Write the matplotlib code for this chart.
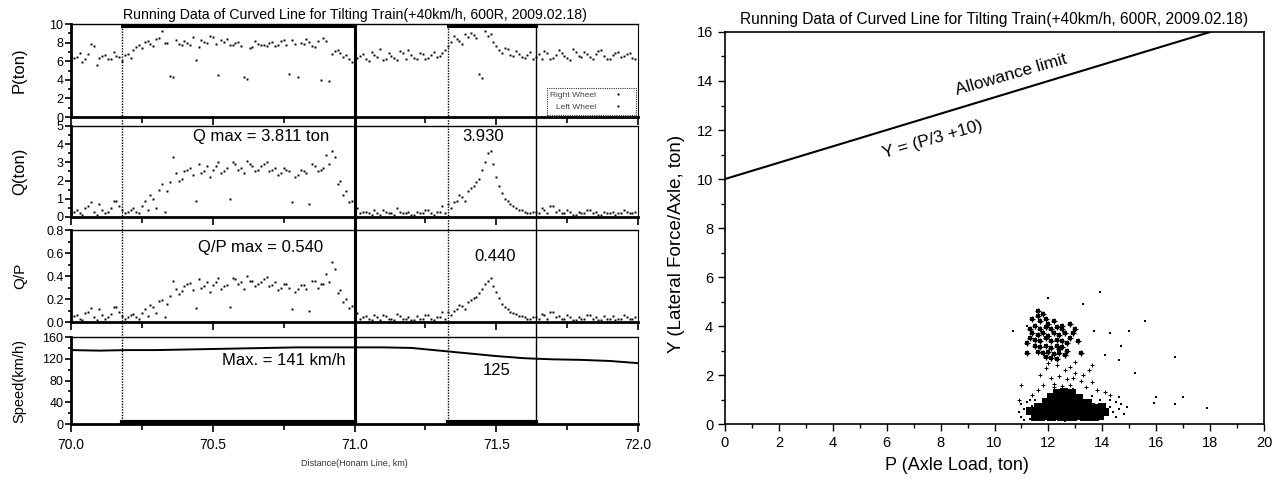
import numpy as np
import matplotlib
matplotlib.use('Agg')
from matplotlib import pyplot as plt
from matplotlib.ticker import MultipleLocator
from matplotlib.transforms import blended_transform_factory
from matplotlib.lines import Line2D

plt.rcParams['font.family'] = ['Liberation Sans', 'DejaVu Sans']

TITLE = 'Running Data of Curved Line for Tilting Train(+40km/h, 600R, 2009.02.18)'

# left side: readings every 0.02 km, right wheel starts at 70.00, left wheel at 70.01
p_right = [6.1, 6.5, 5.9, 6.8, 7.6, 6.4, 6.7, 6.2, 6.6, 6.0,
           6.8, 7.2, 7.7, 8.1, 7.9, 8.4, 9.3, 8.0, 4.3, 7.9,
           8.2, 7.8, 6.1, 8.3, 8.0, 8.6, 4.5, 8.1, 7.7, 8.0,
           7.6, 4.1, 7.5, 7.9, 7.7, 8.0, 7.6, 8.2, 7.8, 8.3,
           4.3, 7.9, 8.1, 7.5, 4.0, 8.2, 6.8, 7.2, 6.5, 6.2,
           6.0, 6.6, 6.3, 7.0, 6.5, 6.1, 6.9, 6.4, 7.1, 6.3,
           6.7, 6.2, 6.8, 6.4, 7.0, 6.6, 7.2, 8.1, 8.4, 7.9,
           8.6, 8.8, 4.6, 9.3, 8.9, 7.6, 6.9, 7.3, 6.6, 6.8,
           6.4, 7.0, 6.5, 6.2, 6.9, 6.4, 7.2, 6.6, 6.1, 7.0,
           6.5, 6.8, 6.2, 7.1, 6.6, 6.3, 6.9, 6.5, 6.8, 6.4]
p_left = [6.4, 6.9, 6.2, 7.9, 5.6, 6.6, 6.3, 7.0, 6.5, 6.7,
          6.4, 7.5, 7.4, 8.2, 7.6, 8.5, 8.0, 4.4, 8.3, 7.7,
          8.0, 8.6, 7.5, 8.1, 8.7, 7.9, 8.3, 8.4, 7.8, 8.1,
          4.3, 7.4, 8.2, 7.8, 7.6, 8.1, 7.7, 8.3, 4.6, 7.9,
          8.0, 8.4, 7.6, 8.2, 8.5, 3.9, 7.1, 6.9, 6.7, 5.9,
          6.4, 6.8, 6.0, 6.7, 7.3, 6.3, 6.6, 6.1, 6.9, 7.2,
          6.4, 6.9, 6.3, 6.7, 6.5, 6.9, 7.6, 8.7, 8.2, 8.9,
          9.0, 8.5, 4.2, 8.7, 8.1, 7.2, 7.4, 6.7, 7.1, 6.5,
          6.7, 6.3, 6.8, 7.1, 6.3, 6.7, 6.9, 6.4, 7.3, 6.6,
          7.0, 6.5, 6.8, 7.2, 6.3, 6.7, 7.0, 6.6, 6.9, 6.2]

q_right = [0.2, 0.4, 0.1, 0.6, 0.3, 0.7, 0.2, 0.5, 0.9, 0.4,
           0.3, 0.5, 0.2, 0.9, 1.2, 0.5, 1.8, 1.4, 3.3, 2.0,
           2.5, 2.7, 0.9, 2.4, 2.8, 2.6, 3.0, 2.5, 1.0, 2.9,
           2.7, 3.1, 2.8, 2.6, 2.9, 2.5, 2.7, 2.4, 2.6, 0.8,
           2.3, 2.5, 0.7, 2.8, 2.6, 3.4, 3.6, 1.8, 1.2, 0.8,
           0.4, 0.2, 0.3, 0.1, 0.2, 0.4, 0.2, 0.1, 0.3, 0.2,
           0.1, 0.3, 0.2, 0.4, 0.1, 0.3, 0.2, 0.5, 0.9, 1.1,
           1.4, 1.7, 2.1, 3.0, 3.6, 2.2, 1.3, 0.9, 0.6, 0.4,
           0.3, 0.2, 0.3, 0.5, 0.2, 0.6, 0.4, 0.2, 0.3, 0.1,
           0.2, 0.4, 0.2, 0.1, 0.3, 0.2, 0.1, 0.2, 0.3, 0.2]
q_left = [0.3, 0.2, 0.5, 0.8, 0.1, 0.4, 0.3, 0.9, 0.6, 0.2,
          0.4, 0.3, 0.6, 0.4, 1.0, 1.5, 0.3, 1.9, 2.4, 2.1,
          2.6, 2.3, 2.9, 2.5, 2.2, 2.8, 2.4, 2.7, 3.0, 2.6,
          2.4, 2.9, 2.5, 2.8, 3.0, 2.6, 2.3, 2.7, 2.5, 2.2,
          2.6, 2.4, 2.9, 2.5, 2.7, 2.9, 3.3, 2.0, 1.4, 0.9,
          0.5, 0.3, 0.2, 0.4, 0.1, 0.3, 0.2, 0.5, 0.2, 0.3,
          0.1, 0.2, 0.4, 0.2, 0.3, 0.6, 0.7, 0.8, 1.2, 0.9,
          1.6, 1.9, 2.6, 3.5, 2.9, 1.7, 1.0, 0.7, 0.5, 0.4,
          0.2, 0.3, 0.2, 0.4, 0.6, 0.3, 0.2, 0.4, 0.1, 0.3,
          0.2, 0.4, 0.3, 0.1, 0.2, 0.3, 0.2, 0.4, 0.2, 0.3]

qp_right = [0.03, 0.06, 0.02, 0.09, 0.04, 0.11, 0.03, 0.07, 0.13, 0.05,
            0.04, 0.07, 0.03, 0.11, 0.15, 0.08, 0.19, 0.16, 0.36, 0.24,
            0.31, 0.34, 0.12, 0.30, 0.35, 0.32, 0.38, 0.31, 0.13, 0.37,
            0.35, 0.40, 0.36, 0.33, 0.37, 0.31, 0.35, 0.30, 0.33, 0.11,
            0.29, 0.32, 0.10, 0.36, 0.33, 0.42, 0.52, 0.25, 0.17, 0.12,
            0.06, 0.03, 0.05, 0.02, 0.04, 0.06, 0.03, 0.02, 0.05, 0.03,
            0.02, 0.05, 0.03, 0.06, 0.02, 0.04, 0.03, 0.06, 0.11, 0.14,
            0.17, 0.21, 0.25, 0.33, 0.38, 0.26, 0.16, 0.11, 0.08, 0.05,
            0.04, 0.03, 0.04, 0.07, 0.03, 0.09, 0.05, 0.03, 0.04, 0.02,
            0.03, 0.06, 0.03, 0.02, 0.05, 0.03, 0.02, 0.03, 0.04, 0.03]
qp_left = [0.05, 0.03, 0.08, 0.12, 0.02, 0.06, 0.04, 0.13, 0.09, 0.03,
           0.06, 0.04, 0.08, 0.05, 0.13, 0.18, 0.04, 0.23, 0.29, 0.27,
           0.33, 0.28, 0.37, 0.31, 0.26, 0.35, 0.29, 0.32, 0.38, 0.33,
           0.29, 0.36, 0.31, 0.35, 0.39, 0.32, 0.28, 0.33, 0.30, 0.26,
           0.32, 0.29, 0.36, 0.30, 0.33, 0.35, 0.46, 0.28, 0.20, 0.14,
           0.08, 0.04, 0.03, 0.06, 0.02, 0.05, 0.03, 0.07, 0.03, 0.04,
           0.02, 0.03, 0.06, 0.03, 0.04, 0.09, 0.09, 0.10, 0.15, 0.11,
           0.19, 0.22, 0.29, 0.36, 0.31, 0.21, 0.13, 0.09, 0.07, 0.05,
           0.03, 0.04, 0.03, 0.06, 0.09, 0.04, 0.03, 0.06, 0.02, 0.04,
           0.03, 0.06, 0.04, 0.02, 0.03, 0.05, 0.03, 0.06, 0.03, 0.04]

speed_dist = [70.0, 70.1, 70.2, 70.3, 70.4, 70.5, 70.6, 70.7, 70.8, 70.9, 71.0,
              71.1, 71.2, 71.3, 71.4, 71.5, 71.6, 71.7, 71.8, 71.9, 72.0]
speed = [136, 135, 136, 136, 137, 138, 139, 140, 141, 141, 141,
         141, 140, 135, 130, 125, 121, 119, 118, 116, 112]

# marked sections (km)
sec1 = (70.18, 71.0)
sec2 = (71.33, 71.64)

# right side: P-Y scatter
blob_p = [11.52, 11.73, 11.88, 12.12, 12.31, 12.48, 12.72, 12.91, 13.08, 13.32, 13.49, 13.71, 13.92,
          11.33, 11.54, 11.69, 11.92, 12.08, 12.29, 12.53, 12.68, 12.94, 13.11, 13.28, 13.52, 13.68, 13.91, 14.09,
          11.62, 11.81, 12.03, 12.18, 12.42, 12.61, 12.79, 13.02, 13.19, 13.41, 13.58, 13.82, 13.98,
          11.91, 12.12, 12.28, 12.51, 12.69, 12.92, 13.09, 13.31, 13.48,
          12.08, 12.32, 12.49, 12.71, 12.88, 13.12,
          12.31, 12.58, 12.87]
blob_y = [0.31, 0.28, 0.33, 0.29, 0.32, 0.27, 0.31, 0.29, 0.33, 0.28, 0.31, 0.30, 0.32,
          0.52, 0.49, 0.51, 0.48, 0.53, 0.50, 0.47, 0.52, 0.49, 0.51, 0.48, 0.52, 0.50, 0.47, 0.51,
          0.71, 0.68, 0.72, 0.69, 0.70, 0.73, 0.68, 0.71, 0.69, 0.72, 0.70, 0.67, 0.71,
          0.89, 0.92, 0.88, 0.91, 0.93, 0.89, 0.90, 0.88, 0.87,
          1.09, 1.12, 1.08, 1.11, 1.10, 1.07,
          1.28, 1.32, 1.27]

upper_p = [11.6, 11.8, 11.7, 11.9, 12.0, 11.5, 11.7, 11.9, 12.1, 12.3, 12.5, 11.4, 11.6, 11.8,
           12.0, 12.2, 12.4, 12.6, 12.8, 11.3, 11.5, 11.7, 11.9, 12.1, 12.3, 12.5, 12.7, 11.5,
           11.7, 11.9, 12.1, 12.3, 12.5, 12.7, 11.6, 11.8, 12.0, 12.2, 12.4, 12.6, 12.1, 12.3,
           11.2, 11.3, 12.9, 13.0, 12.8, 11.4, 11.6, 12.2, 12.5, 11.9, 12.4, 11.2, 13.1, 13.2]
upper_y = [4.4, 4.5, 4.2, 4.3, 4.1, 4.0, 3.9, 3.95, 3.9, 3.95, 3.9, 3.7, 3.65, 3.7,
           3.6, 3.7, 3.65, 3.7, 3.5, 3.5, 3.45, 3.4, 3.5, 3.4, 3.45, 3.4, 3.3, 3.2,
           3.15, 3.2, 3.1, 3.2, 3.15, 3.0, 2.95, 2.9, 2.95, 2.85, 2.9, 2.8, 2.7, 2.65,
           3.3, 3.9, 3.7, 3.9, 4.1, 4.3, 4.6, 4.2, 4.0, 2.75, 3.05, 2.9, 3.4, 2.9]

mid_p = [11.9, 12.3, 12.6, 12.8, 13.0, 13.3, 13.5, 11.7, 12.1, 12.4, 12.7, 12.9, 13.2, 13.6, 11.8,
         12.2, 12.5, 12.8, 13.4, 13.8, 14.1, 14.3, 11.6, 11.4, 12.0, 13.0, 13.6, 12.2, 11.0, 10.9]
mid_y = [2.3, 2.4, 2.2, 2.35, 2.1, 2.0, 2.2, 2.0, 1.9, 1.95, 1.85, 1.9, 1.75, 1.7, 1.6,
         1.65, 1.55, 1.6, 1.5, 1.4, 1.3, 1.2, 1.4, 1.2, 2.5, 2.55, 2.4, 1.5, 1.6, 1.0]

fringe_p = [10.9, 11.0, 11.1, 11.0, 11.2, 11.2, 11.3, 11.4, 14.2, 14.3, 14.4, 14.5, 14.6, 14.7, 14.8,
            14.9, 14.3, 14.6, 12.0, 12.6, 13.2, 13.8, 11.6, 12.9, 13.6, 13.9, 14.0, 11.1, 14.5, 11.5]
fringe_y = [0.5, 0.3, 0.6, 0.8, 0.4, 0.9, 0.2, 0.75, 0.4, 0.7, 0.5, 0.9, 0.6, 0.8, 0.4,
            0.7, 1.0, 1.1, 0.15, 0.12, 0.15, 0.18, 0.15, 1.45, 1.15, 1.0, 0.25, 0.15, 0.3, 1.0]

outlier_p = [13.9, 12.0, 13.3, 10.7, 11.2, 15.6, 16.7, 17.9, 17.0, 16.0, 16.7, 15.9, 15.2, 15.0,
             14.7, 14.6, 14.1, 13.7, 14.3, 11.3]
outlier_y = [5.4, 5.15, 4.9, 3.8, 4.0, 4.2, 2.75, 0.64, 1.1, 1.1, 0.83, 0.86, 2.1, 3.8,
             3.2, 2.6, 2.8, 3.8, 3.7, 1.0]

limit_p = [0, 18]
limit_y = [10, 16]


def style_left(ax, top_dotted):
    ax.set_xlim(70.0, 72.0)
    ax.xaxis.set_major_locator(MultipleLocator(0.5))
    ax.xaxis.set_minor_locator(MultipleLocator(0.25))
    ax.tick_params(axis='both', which='both', direction='out', labelsize=9,
                   width=1.2, pad=1.5)
    ax.tick_params(axis='both', which='major', length=4)
    ax.tick_params(axis='both', which='minor', length=2.5)
    ax.tick_params(axis='x', which='minor', length=4)
    ax.tick_params(axis='x', which='major', length=6)
    ax.spines['left'].set_linewidth(2.0)
    ax.spines['bottom'].set_linewidth(2.0)
    ax.spines['right'].set_linewidth(0.8)
    ax.spines['top'].set_linewidth(1.0)
    if top_dotted:
        ax.spines['top'].set_linestyle((0, (1, 1)))
    ax.spines['right'].set_linestyle((0, (1, 1)))
    ax.yaxis.set_label_coords(-0.078, 0.5)


fig = plt.figure(figsize=(12.82, 4.92), dpi=100)
L, W = 0.0554, 0.4423
ax_p = fig.add_axes([L, 0.762, W, 0.189])
ax_q = fig.add_axes([L, 0.559, W, 0.185])
ax_qp = fig.add_axes([L, 0.3455, W, 0.187])
ax_v = fig.add_axes([L, 0.138, W, 0.177])

dist_r = 70.00 + 0.02 * np.arange(len(p_right))
dist_l = 70.01 + 0.02 * np.arange(len(p_left))

dot = dict(ls='none', color='black', marker='s', ms=1.4, mew=0)
ax_p.plot(dist_r, p_right, label='Right Wheel', **dot)
ax_p.plot(dist_l, p_left, label='Left Wheel', **dot)
ax_q.plot(dist_r, q_right, **dot)
ax_q.plot(dist_l, q_left, **dot)
ax_qp.plot(dist_r, qp_right, **dot)
ax_qp.plot(dist_l, qp_left, **dot)
ax_v.plot(speed_dist, speed, color='black', lw=1.4)

ax_p.set_ylim(0, 10)
ax_p.yaxis.set_major_locator(MultipleLocator(2))
ax_p.yaxis.set_minor_locator(MultipleLocator(1))
ax_q.set_ylim(0, 5)
ax_q.yaxis.set_major_locator(MultipleLocator(1))
ax_q.yaxis.set_minor_locator(MultipleLocator(0.5))
ax_qp.set_ylim(0, 0.8)
ax_qp.yaxis.set_major_locator(MultipleLocator(0.2))
ax_qp.yaxis.set_minor_locator(MultipleLocator(0.1))
ax_qp.yaxis.set_major_formatter(plt.FormatStrFormatter('%.1f'))
ax_v.set_ylim(0, 160)
ax_v.yaxis.set_major_locator(MultipleLocator(40))
ax_v.yaxis.set_minor_locator(MultipleLocator(20))

for ax, dotted in [(ax_p, True), (ax_q, True), (ax_qp, False), (ax_v, False)]:
    style_left(ax, dotted)
for ax in [ax_p, ax_q, ax_qp]:
    ax.tick_params(axis='x', labelbottom=False)
ax_v.xaxis.set_major_formatter(plt.FormatStrFormatter('%.1f'))
ax_v.tick_params(axis='x', labelsize=10, pad=4)

ax_p.set_ylabel('P(ton)', fontsize=12)
ax_q.set_ylabel('Q(ton)', fontsize=12)
ax_qp.set_ylabel('Q/P', fontsize=11)
ax_v.set_ylabel('Speed(km/h)', fontsize=10.5)
ax_v.set_xlabel('Distance(Honam Line, km)', fontsize=6.5, color='#333333')
ax_v.xaxis.set_label_coords(0.5, -0.40)
ax_p.set_title(TITLE, fontsize=10.2, pad=4)

leg = ax_p.legend(loc='lower right', fontsize=6, markerfirst=False, handlelength=3.5,
                  frameon=True, fancybox=False, borderpad=0.4, labelspacing=0.5,
                  bbox_to_anchor=(1.0, 0.0), borderaxespad=0.3)
leg.get_frame().set_edgecolor('black')
leg.get_frame().set_linestyle((0, (1, 1)))
leg.get_frame().set_linewidth(0.8)
for t in leg.get_texts():
    t.set_color('#444444')

ax_q.text(70.67, 4.4, 'Q max = 3.811 ton', fontsize=12, ha='center', va='center')
ax_q.text(71.455, 4.4, '3.930', fontsize=12, ha='center', va='center')
ax_qp.text(70.67, 0.65, 'Q/P max = 0.540', fontsize=12, ha='center', va='center')
ax_qp.text(71.495, 0.57, '0.440', fontsize=12, ha='center', va='center')
ax_v.text(70.75, 116, 'Max. = 141 km/h', fontsize=12, ha='center', va='center')
ax_v.text(71.5, 99, '125', fontsize=12, ha='center', va='center')

# section boxes spanning the four panels
tr = blended_transform_factory(ax_v.transData, fig.transFigure)
y_lo, y_hi = 0.138, 0.949
for (x0, x1), right_lw in [(sec1, 2.2), (sec2, 1.0)]:
    fig.add_artist(Line2D([x0, x0], [y_lo, y_hi], transform=tr, color='black',
                          lw=1.0, ls=(0, (1, 1))))
    fig.add_artist(Line2D([x1, x1], [y_lo, y_hi], transform=tr, color='black', lw=right_lw))
    ax_p.plot([x0, x1], [9.85, 9.85], color='black', lw=2.2, clip_on=False)
    ax_v.plot([x0, x1], [3, 3], color='black', lw=3.0, clip_on=False)

# right chart
ax_r = fig.add_axes([0.5655, 0.138, 0.4205, 0.797])
ax_r.plot(limit_p, limit_y, color='black', lw=1.5)
ax_r.scatter(blob_p, blob_y, s=34, marker='s', color='black', linewidths=0)
ax_r.scatter(fringe_p, fringe_y, s=4, marker='s', color='black', linewidths=0)
ax_r.scatter(upper_p, upper_y, s=20, marker='+', color='black', linewidths=1.0)
ax_r.scatter(upper_p, upper_y, s=10, marker='s', color='black', linewidths=0)
ax_r.scatter(mid_p, mid_y, s=12, marker='+', color='black', linewidths=0.7)
ax_r.scatter(outlier_p, outlier_y, s=3, marker='s', color='black', linewidths=0)
ax_r.set_xlim(0, 20)
ax_r.set_ylim(0, 16)
ax_r.xaxis.set_major_locator(MultipleLocator(2))
ax_r.xaxis.set_minor_locator(MultipleLocator(1))
ax_r.yaxis.set_major_locator(MultipleLocator(2))
ax_r.yaxis.set_minor_locator(MultipleLocator(1))
ax_r.tick_params(axis='both', which='both', direction='out', labelsize=10.5, width=1.0)
ax_r.tick_params(axis='both', which='major', length=5)
ax_r.tick_params(axis='both', which='minor', length=3)
for s in ax_r.spines.values():
    s.set_linewidth(1.2)
ax_r.set_xlabel('P (Axle Load, ton)', fontsize=13)
ax_r.set_ylabel('Y (Lateral Force/Axle, ton)', fontsize=13.5)
ax_r.xaxis.set_label_coords(0.43, -0.085)
ax_r.yaxis.set_label_coords(-0.075, 0.46)
ax_r.set_title(TITLE, fontsize=11.2, pad=6)
ax_r.text(10.6, 14.25, 'Allowance limit', fontsize=12.5, rotation=16, ha='center', va='center')
ax_r.text(7.7, 11.6, 'Y = (P/3 +10)', fontsize=12.5, rotation=16, ha='center', va='center')

fig.savefig('out.png', dpi=100)
